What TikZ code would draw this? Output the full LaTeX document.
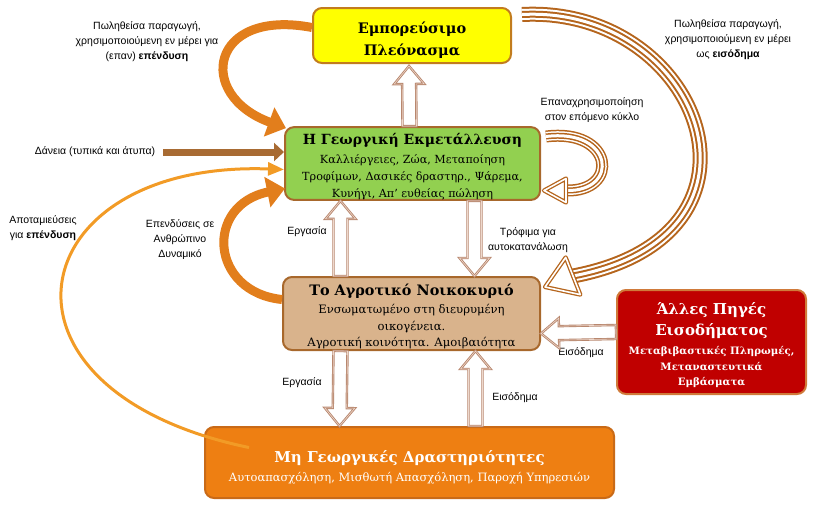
\documentclass[tikz,border=0pt]{standalone}
\usepackage{fontspec}
\setmainfont{DejaVu Serif}
\newfontfamily\lblfont{Liberation Sans}
\usetikzlibrary{arrows.meta,calc}

\definecolor{boxedge}{HTML}{A8682C}
\definecolor{surplusedge}{HTML}{C27C1E}
\definecolor{surplusfill}{HTML}{FFFF00}
\definecolor{farmfill}{HTML}{92D050}
\definecolor{housefill}{HTML}{D9B38C}
\definecolor{otheredge}{HTML}{D07A3A}
\definecolor{otherfill}{HTML}{C00000}
\definecolor{nonfarmedge}{HTML}{C96A17}
\definecolor{nonfarmfill}{HTML}{EE7F12}
\definecolor{hollowedge}{HTML}{B8876E}
\definecolor{hollowin}{HTML}{EED8CC}
\definecolor{stripe}{HTML}{B5651D}
\definecolor{flow}{HTML}{E27E1C}
\definecolor{savings}{HTML}{F29B26}
\definecolor{loan}{HTML}{A86B33}

\newcommand\hollowarrow[2]{%
  \coordinate (ha) at (#1);
  \coordinate (hb) at (#2);
  \coordinate (hc) at ($(hb)!18pt!(ha)$);
  \draw[hollow] ($(ha)!7pt!90:(hb)$) -- ($(hc)!7pt!90:(hb)$) -- ($(hc)!15pt!90:(hb)$) -- (hb)
    -- ($(hc)!15pt!-90:(hb)$) -- ($(hc)!7pt!-90:(hb)$) -- ($(ha)!7pt!-90:(hb)$) -- cycle;}
\newcommand\openhead[3]{%
  \draw[headline] ($(#2)!#3!90:(#1)$) -- (#1) -- ($(#2)!#3!-90:(#1)$) -- cycle;}
\newcommand\otherhead{\fontsize{15}{15.5}\selectfont}

\begin{document}
\begin{tikzpicture}[x=1pt,y=-1pt,
  box/.style={draw=boxedge, line width=2pt, rounded corners=9pt, align=center, inner sep=0pt},
  lbl/.style={font=\lblfont\fontsize{10.5}{15}\selectfont, align=center, inner sep=1pt},
  hollow/.style={fill=white, draw=hollowedge, line width=0.9pt, double=hollowin, double distance=0.6pt},
  headline/.style={draw=stripe, fill=white, line width=1.3pt, double=white, double distance=1.6pt, line join=round},
  stripebig/.style={draw=stripe, line width=15pt, postaction={draw=white, line width=11pt},
    postaction={draw=stripe, line width=7pt}, postaction={draw=white, line width=3pt}},
  stripesmall/.style={draw=stripe, line width=12pt, postaction={draw=white, line width=9pt},
    postaction={draw=stripe, line width=6pt}, postaction={draw=white, line width=3pt}},
  flowarrow/.style={draw=flow, line width=9pt, -{Triangle[length=18pt,width=30pt]}},
  savearrow/.style={draw=savings, line width=3pt, -{Triangle[length=16pt,width=13pt]}},
  loanarrow/.style={draw=loan, line width=7pt, -{Triangle[length=10pt,width=18pt]}}]
\useasboundingbox (0,0) rectangle (813,507);

\node[box, draw=surplusedge, fill=surplusfill, minimum width=198pt, minimum height=55pt,
  font=\bfseries\fontsize{14.5}{21.5}\selectfont] (surplus) at (412,35.5) {\rule{0pt}{21pt}Εμπορεύσιμο\\Πλεόνασμα};
\node[box, fill=farmfill, minimum width=255pt, minimum height=71pt,
  font=\fontsize{11.2}{16.8}\selectfont]
  (farm) at (412.5,163.5) {{\bfseries\fontsize{14}{16}\selectfont\rule{0pt}{17pt}Η Γεωργική Εκμετάλλευση}\\[3pt]
  Καλλιέργειες, Ζώα, Μεταποίηση\\Τροφίμων, Δασικές δραστηρ., Ψάρεμα,\\Κυνήγι, Απ’ ευθείας πώληση};
\node[box, fill=housefill, minimum width=257pt, minimum height=73pt,
  font=\fontsize{11.6}{16.3}\selectfont]
  (household) at (411.5,313.5) {{\bfseries\fontsize{14.4}{16}\selectfont\rule{0pt}{17.5pt}Το Αγροτικό Νοικοκυριό}\\[2pt]
  Ενσωματωμένο στη διευρυμένη\\οικογένεια.\\Αγροτική κοινότητα. Αμοιβαιότητα};
\node[box, draw=otheredge, fill=otherfill, text=white, minimum width=189pt, minimum height=104pt,
  font=\bfseries\fontsize{10.2}{15.5}\selectfont] (other) at (711.5,342)
  {{\otherhead\rule{0pt}{19pt}Άλλες Πηγές}\\[5pt]{\otherhead Εισοδήματος}\\[4pt]
  Μεταβιβαστικές Πληρωμές,\\Μεταναστευτικά\\Εμβάσματα};
\node[box, draw=nonfarmedge, fill=nonfarmfill, text=white, minimum width=409pt, minimum height=71pt,
  font=\fontsize{11.5}{18.5}\selectfont] (nonfarm) at (409.5,462.5)
  {{\bfseries\fontsize{15}{18}\selectfont\rule{0pt}{22pt}Μη Γεωργικές Δραστηριότητες}\\
  Αυτοαπασχόληση, Μισθωτή Απασχόληση, Παροχή Υπηρεσιών};

\node[lbl] (sold1) at (147,42) {Πωληθείσα παραγωγή,\\χρησιμοποιούμενη εν μέρει για\\(επαν) \textbf{επένδυση}};
\node[lbl] (sold2) at (728,40) {Πωληθείσα παραγωγή,\\χρησιμοποιούμενη εν μέρει\\ως \textbf{εισόδημα}};
\node[lbl] (reuse) at (592,110) {Επαναχρησιμοποίηση\\στον επόμενο κύκλο};
\node[lbl] (loans) at (95,152) {Δάνεια (τυπικά και άτυπα)};
\node[lbl] (saved) at (43,228) {Αποταμιεύσεις\\για \textbf{επένδυση}};
\node[lbl] (human) at (180,240) {Επενδύσεις σε\\Ανθρώπινο\\Δυναμικό};
\node[lbl] (work1) at (307,232) {Εργασία};
\node[lbl] (food) at (528,240) {Τρόφιμα για\\αυτοκατανάλωση};
\node[lbl] (work2) at (302,383) {Εργασία};
\node[lbl] (inc1) at (515,398) {Εισόδημα};
\node[lbl] (inc2) at (581,353) {Εισόδημα};

\draw[flowarrow] ($(surplus.west)+(0,-8)$) .. controls (210,8) and (195,95) .. ($(farm.north west)+(2,2)$);
\draw[flowarrow] ($(household.west)+(0,-14)$) .. controls (210,292) and (204,205) .. ($(farm.west)+(1,25)$);
\draw[loanarrow] ($(loans.east)+(7,0)$) -- (loans.east -| farm.west);
\draw[savearrow] ($(nonfarm.west)+(45,-15)$) .. controls (-28,390) and (20,160) .. ($(farm.west)+(0,6)$);

\coordinate (bigtip) at ($(household.north east)+(4,11)$);
\coordinate (bigbase) at ($(household.north east)+(32,0)$);
\draw[stripebig] ($(surplus.east)+(10,-21)$) .. controls (700,5) and (790,235) .. (bigbase);
\openhead{bigtip}{bigbase}{20pt}
\coordinate (retip) at ($(farm.east)+(3,27)$);
\coordinate (rebase) at ($(farm.east)+(25,27)$);
\draw[stripesmall] ($(farm.east)+(5,-27)$) .. controls (614,128) and (620,192) .. (rebase);
\openhead{retip}{rebase}{12pt}

\hollowarrow{$(farm.north)+(-3,0)$}{$(surplus.south)+(-3,2)$}
\hollowarrow{$(household.north)+(-71,0)$}{$(farm.south)+(-72,0)$}
\hollowarrow{$(farm.south)+(62,0)$}{$(household.north)+(63,0)$}
\hollowarrow{$(household.south)+(-71,0)$}{$(nonfarm.north)+(-70,0)$}
\hollowarrow{$(nonfarm.north)+(66,0)$}{$(household.south)+(64,0)$}
\hollowarrow{$(other.west)+(0,-10)$}{$(household.east)+(0,20)$}
\end{tikzpicture}
\end{document}
